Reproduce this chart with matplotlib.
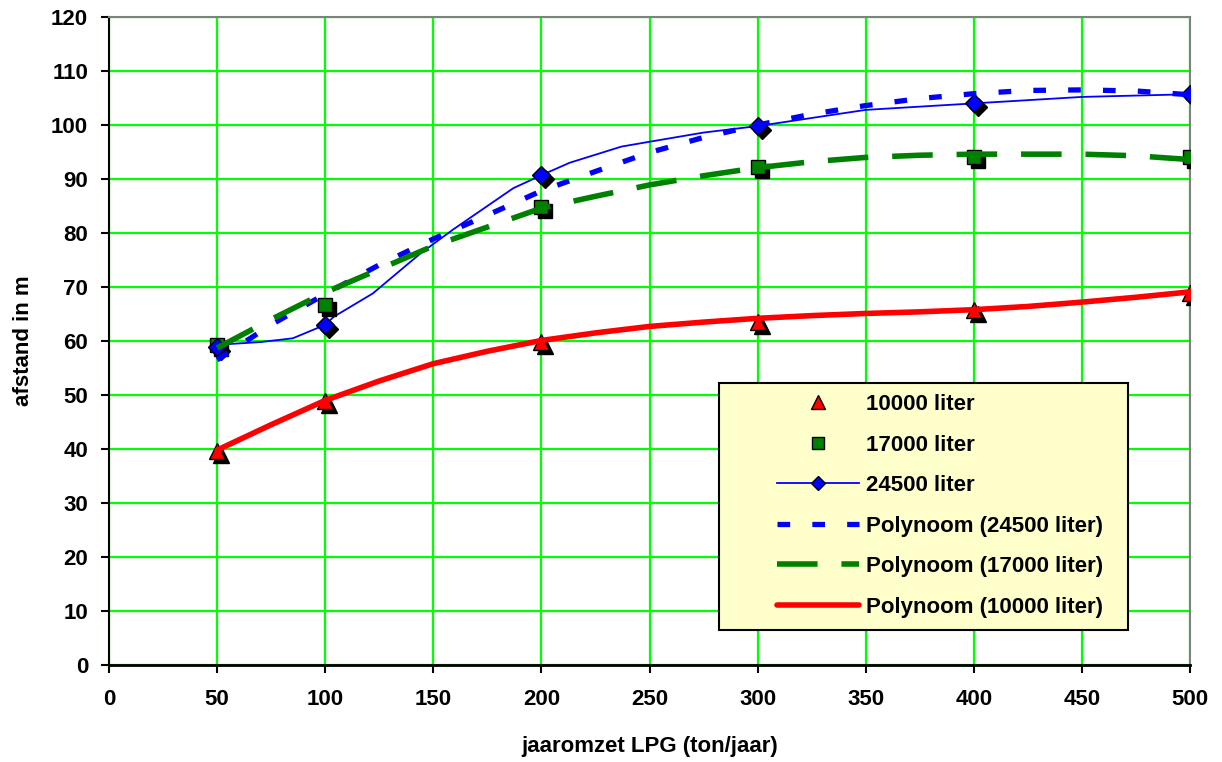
import matplotlib
matplotlib.use("Agg")
import matplotlib.pyplot as plt
from matplotlib.lines import Line2D
from matplotlib.patches import Rectangle
from matplotlib.transforms import offset_copy

plt.rcParams['font.family'] = ['Liberation Sans', 'DejaVu Sans']
plt.rcParams['font.weight'] = 'bold'

# ---- data ----
x_points = [50, 100, 200, 300, 400, 500]
y_10000 = [39.7, 48.9, 59.8, 63.5, 65.8, 68.8]
y_17000 = [59.3, 66.7, 84.8, 92.2, 94.1, 94.1]
y_24500 = [58.9, 63.0, 90.7, 99.8, 104.0, 105.7]

# smoothed line through the 24500 liter points
smooth_x = [50, 54, 70, 85, 100, 104, 122, 144, 159, 187, 200, 213, 237, 250, 275, 300, 350, 400, 450, 500]
smooth_y = [58.9, 59.4, 59.8, 60.5, 63.0, 64.5, 68.8, 76.2, 80.6, 88.3, 90.7, 93.0, 96.0, 96.9, 98.6, 99.8, 102.8, 104.0, 105.2, 105.7]

# polynomial trendlines
trend_x = [50, 75, 100, 125, 150, 175, 200, 225, 250, 275, 300, 325, 350, 375, 400, 425, 450, 475, 500]
trend_24500 = [56.5, 63.0, 68.7, 74.1, 78.9, 83.3, 87.8, 91.4, 94.9, 97.7, 100.0, 102.0, 103.6, 104.9, 105.8, 106.4, 106.5, 106.3, 105.6]
trend_17000 = [58.7, 64.0, 69.0, 73.3, 77.6, 81.1, 84.6, 86.8, 88.9, 90.6, 92.1, 93.2, 94.0, 94.4, 94.6, 94.6, 94.6, 94.3, 93.6]
trend_10000 = [39.8, 44.5, 49.0, 52.6, 55.8, 58.1, 60.1, 61.5, 62.7, 63.5, 64.2, 64.7, 65.1, 65.4, 65.8, 66.4, 67.2, 68.1, 69.1]

x_ticks = list(range(0, 501, 50))
y_ticks = list(range(0, 121, 10))

labels = ['10000 liter', '17000 liter', '24500 liter',
          'Polynoom (24500 liter)', 'Polynoom (17000 liter)', 'Polynoom (10000 liter)']

RED = '#FF0000'
GREEN = '#008000'
BLUE = '#0000FF'

W, H = 1222, 762
fig = plt.figure(figsize=(W / 100, H / 100), dpi=100)
ax = fig.add_axes([109 / W, 97 / H, 1081 / W, 648 / H])

ax.set_xlim(0, 500)
ax.set_ylim(0, 120)
ax.set_xticks(x_ticks)
ax.set_yticks(y_ticks)
ax.grid(True, color='#00FF00', linewidth=1.6)
ax.set_axisbelow(True)

for s in ['top', 'right']:
    ax.spines[s].set_color('#808080')
    ax.spines[s].set_linewidth(1.5)
ax.spines['left'].set_linewidth(1.5)
ax.spines['bottom'].set_linewidth(2.0)

ax.tick_params(axis='both', direction='out', length=6, width=1.5, labelsize=16, color='black')
ax.tick_params(axis='x', pad=11)
ax.tick_params(axis='y', pad=9)
for lab in ax.get_xticklabels() + ax.get_yticklabels():
    lab.set_fontweight('bold')

# smoothed 24500 line
ax.plot(smooth_x, smooth_y, color=BLUE, linewidth=1.3, zorder=3)

# markers with black shadow
shadow = offset_copy(ax.transData, fig=fig, x=4, y=-4, units='dots')
mk = [(y_10000, '^', RED, 12), (y_17000, 's', GREEN, 9.5), (y_24500, 'D', BLUE, 9.5)]
for yv, m, c, ms in mk:
    ax.plot(x_points, yv, linestyle='none', marker=m, markersize=ms, color='black',
            markeredgecolor='black', transform=shadow, zorder=4)
    ax.plot(x_points, yv, linestyle='none', marker=m, markersize=ms, color=c,
            markeredgecolor='black', markeredgewidth=1.0, zorder=5)

# trendlines
ax.plot(trend_x, trend_24500, color=BLUE, linewidth=3.8, dashes=(2.4, 4.2),
        dash_capstyle='butt', zorder=6)
ax.plot(trend_x, trend_17000, color=GREEN, linewidth=4.0, dashes=(7.3, 4.3),
        dash_capstyle='butt', zorder=6)
ax.plot(trend_x, trend_10000, color=RED, linewidth=4.0, solid_capstyle='round', zorder=6)

ax.set_xlabel('jaaromzet LPG (ton/jaar)', fontsize=16, fontweight='bold', labelpad=19)
ax.set_ylabel('afstand in m', fontsize=16, fontweight='bold', labelpad=12)

# legend box
rect = Rectangle((719 / W, (H - 630) / H), (1128 - 719) / W, (630 - 383) / H,
                 transform=fig.transFigure, facecolor='#FFFFCC', edgecolor='black',
                 linewidth=1.5, zorder=10)
fig.patches.append(rect)

handles = [
    Line2D([], [], linestyle='none', marker='^', markersize=9.5, color=RED, markeredgecolor='black'),
    Line2D([], [], linestyle='none', marker='s', markersize=8.5, color=GREEN, markeredgecolor='black'),
    Line2D([], [], color=BLUE, linewidth=1.3, marker='D', markersize=7, markerfacecolor=BLUE,
           markeredgecolor='black'),
    Line2D([], [], color=BLUE, linewidth=3.8, dashes=(2.4, 4.2), dash_capstyle='butt'),
    Line2D([], [], color=GREEN, linewidth=4.0, dashes=(7.3, 4.3), dash_capstyle='butt'),
    Line2D([], [], color=RED, linewidth=4.0, solid_capstyle='round'),
]
leg = fig.legend(handles, labels, loc='upper left',
                 bbox_to_anchor=(777 / W, (H - 394) / H), bbox_transform=fig.transFigure,
                 frameon=False, handlelength=3.7, handletextpad=0.3,
                 labelspacing=0.88, borderpad=0, borderaxespad=0,
                 prop={'weight': 'bold', 'size': 16})
leg.set_zorder(11)

fig.savefig('out.png', dpi=100)
